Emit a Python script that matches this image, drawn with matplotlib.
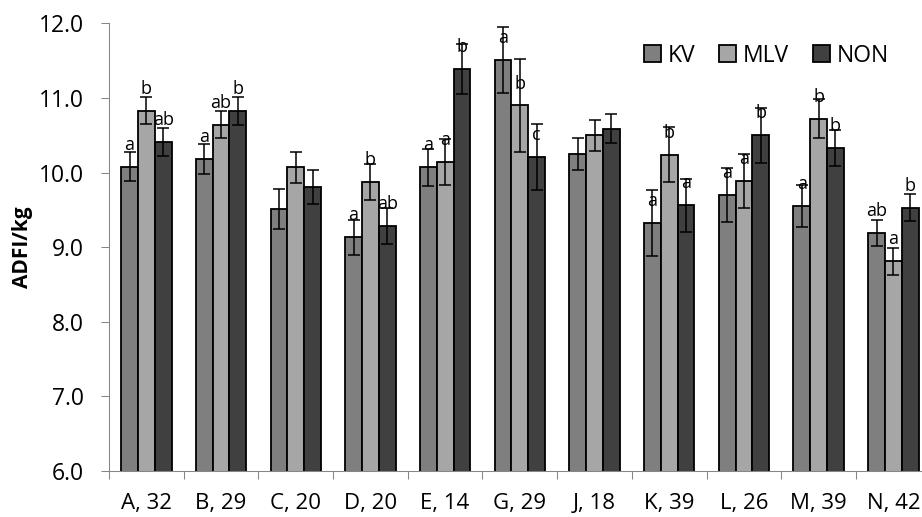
import matplotlib
matplotlib.use('Agg')
import matplotlib.pyplot as plt
import numpy as np

plt.rcParams['font.family'] = ['Open Sans', 'DejaVu Sans']

# 数据
farms = ['A, 32', 'B, 29', 'C, 20', 'D, 20', 'E, 14', 'G, 29', 'J, 18', 'K, 39', 'L, 26', 'M, 39', 'N, 42']
series = ['KV', 'MLV', 'NON']
kv = [10.08, 10.18, 9.51, 9.13, 10.07, 11.51, 10.25, 9.32, 9.70, 9.55, 9.19]
mlv = [10.83, 10.64, 10.07, 9.87, 10.14, 10.90, 10.50, 10.24, 9.89, 10.72, 8.81]
non = [10.41, 10.83, 9.81, 9.28, 11.39, 10.21, 10.59, 9.56, 10.50, 10.33, 9.53]
kv_err = [0.19, 0.20, 0.27, 0.23, 0.25, 0.44, 0.21, 0.44, 0.36, 0.28, 0.17]
mlv_err = [0.18, 0.18, 0.21, 0.24, 0.31, 0.62, 0.21, 0.37, 0.36, 0.26, 0.18]
non_err = [0.19, 0.19, 0.23, 0.24, 0.33, 0.44, 0.20, 0.36, 0.37, 0.24, 0.18]
kv_sig = ['a', 'a', '', 'a', 'a', 'a', '', 'a', 'a', 'a', 'ab']
mlv_sig = ['b', 'ab', '', 'b', 'a', 'b', '', 'b', 'a', 'b', 'a']
non_sig = ['ab', 'b', '', 'ab', 'b', 'c', '', 'a', 'b', 'b', 'b']

colors = ['#7f7f7f', '#a6a6a6', '#404040']
axis_gray = '#868686'

fig = plt.figure(figsize=(9.22, 5.17), dpi=100)
ax = fig.add_axes([0.1182, 0.0896, 0.8912, 0.865])

x = np.arange(len(farms))
width = 0.225
offsets = [-width, 0, width]

for vals, errs, sigs, name, col, off in zip([kv, mlv, non], [kv_err, mlv_err, non_err],
                                            [kv_sig, mlv_sig, non_sig], series, colors, offsets):
    ax.bar(x + off, vals, width, color=col, edgecolor='black', linewidth=1.3, label=name, zorder=2)
    ax.errorbar(x + off, vals, yerr=errs, fmt='none', ecolor='black', elinewidth=1.1,
                capsize=4.3, capthick=1.1, zorder=3)
    # 显著性字母
    for xi, v, s in zip(x + off, vals, sigs):
        if s:
            ax.annotate(s, (xi, v), xytext=(0, 12.2), textcoords='offset points',
                        ha='center', va='baseline', fontsize=13, zorder=4)

ax.set_ylim(6, 12)
ax.set_yticks(np.arange(6, 12.01, 1))
ax.set_yticklabels([f'{t:.1f}' for t in np.arange(6, 12.01, 1)])
ax.set_xlim(-0.5, len(farms) - 0.5)

# 刻度在类别边界上，标签在类别中心
ax.set_xticks(np.arange(-0.5, len(farms), 1))
ax.set_xticklabels([''] * (len(farms) + 1))
ax.set_xticks(x, minor=True)
ax.set_xticklabels(farms, minor=True)
ax.tick_params(axis='x', which='major', direction='out', length=6, width=0.75, color=axis_gray)
ax.tick_params(axis='x', which='minor', length=0, pad=16, labelsize=16)
ax.tick_params(axis='y', direction='out', length=6, width=0.75, color=axis_gray, pad=12, labelsize=16.5)

for sp in ['top', 'right']:
    ax.spines[sp].set_visible(False)
for sp in ['left', 'bottom']:
    ax.spines[sp].set_color(axis_gray)
    ax.spines[sp].set_linewidth(0.75)

ax.set_ylabel('ADFI/kg', fontsize=15, fontweight='bold', labelpad=4)

fig.legend(loc='center left', bbox_to_anchor=(644 / 922, 1 - 55.5 / 517), ncol=3, frameon=False,
           fontsize=16.5, handlelength=0.72, handleheight=0.72, handletextpad=0.32,
           columnspacing=1.04, borderpad=0, borderaxespad=0)

plt.savefig('out.png', dpi=100)
